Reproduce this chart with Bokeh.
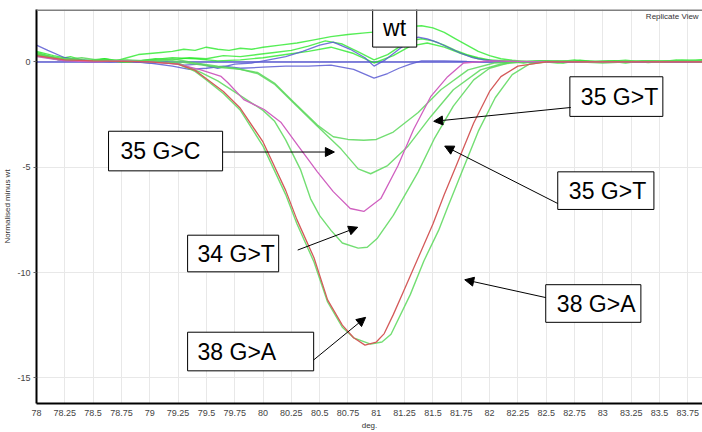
from bokeh.plotting import figure
from bokeh.models import Range1d, FixedTicker, Arrow, NormalHead, Label, Span
from bokeh.core.properties import value
from bokeh.embed import file_html
from bokeh.resources import INLINE

# ---------------- data ----------------
x_ticks = [78, 78.25, 78.5, 78.75, 79, 79.25, 79.5, 79.75, 80, 80.25, 80.5, 80.75,
           81, 81.25, 81.5, 81.75, 82, 82.25, 82.5, 82.75, 83, 83.25, 83.5, 83.75]
x_tick_labels = ["78", "78.25", "78.5", "78.75", "79", "79.25", "79.5", "79.75", "80", "80.25",
                 "80.5", "80.75", "81", "81.25", "81.5", "81.75", "82", "82.25", "82.5", "82.75",
                 "83", "83.25", "83.5", "83.75"]
y_ticks = [0, -5, -10, -15]
y_tick_labels = ["0", "-5", "-10", "-15"]

blue_zero_x = [78.0, 83.88]
blue_zero_y = [0.0, 0.0]

blue_a_x = [78.0, 78.1, 78.25, 78.4, 78.5, 78.65, 78.8, 79.0, 79.15, 79.3, 79.45, 79.6, 79.75, 79.9,
            80.05, 80.2, 80.35, 80.5, 80.62, 80.77, 80.9, 80.98, 81.08, 81.2, 81.3, 81.37, 81.45,
            81.55, 81.65, 81.75, 81.85, 81.95, 82.1, 82.3, 82.5, 82.75, 83.0, 83.25, 83.5, 83.75, 83.88]
blue_a_y = [0.8, 0.55, 0.2, 0.1, 0.05, 0.0, 0.05, -0.05, 0.0, -0.15, -0.1, -0.3, -0.1, -0.05,
            0.1, 0.25, 0.5, 0.8, 0.94, 0.6, 0.2, -0.2, 0.1, 0.6, 1.0, 1.18, 1.1, 0.9, 0.65, 0.4,
            0.2, 0.1, 0.03, 0.0, 0.02, 0.0, 0.0, 0.0, 0.0, 0.0, 0.0]

blue_b_x = [78.0, 78.25, 78.5, 78.75, 79.0, 79.2, 79.35, 79.5, 79.65, 79.8, 80.0, 80.2, 80.4, 80.6,
            80.8, 80.98, 81.1, 81.2, 81.3, 81.4, 81.6, 81.8, 82.0, 82.5, 83.0, 83.5, 83.88]
blue_b_y = [0.3, 0.05, 0.0, 0.05, -0.05, -0.2, -0.35, -0.3, -0.2, -0.3, -0.25, -0.2, -0.2, -0.15,
            -0.35, -0.77, -0.55, -0.3, -0.1, 0.05, 0.05, 0.02, 0.0, 0.0, 0.0, 0.0, 0.0]

wt1_x = [78.0, 78.1, 78.2, 78.3, 78.4, 78.5, 78.6, 78.7, 78.8, 78.9, 79.0, 79.1, 79.2, 79.3, 79.4,
         79.5, 79.6, 79.7, 79.8, 79.9, 80.0, 80.15, 80.3, 80.45, 80.6, 80.75, 80.9, 81.05, 81.2,
         81.3, 81.4, 81.5, 81.6, 81.7, 81.8, 81.9, 82.0, 82.1, 82.2, 82.35, 82.5, 82.65, 82.8,
         82.95, 83.1, 83.25, 83.4, 83.55, 83.7, 83.88]
wt1_y = [0.45, 0.3, 0.15, 0.25, 0.1, 0.05, 0.15, 0.05, 0.2, 0.35, 0.4, 0.45, 0.5, 0.6, 0.55,
         0.7, 0.6, 0.55, 0.65, 0.6, 0.7, 0.8, 0.9, 1.05, 1.2, 1.3, 1.38, 1.45, 1.6,
         1.68, 1.72, 1.62, 1.4, 1.1, 0.8, 0.5, 0.3, 0.15, 0.08, 0.0, 0.05, -0.05, 0.08,
         0.0, 0.06, -0.02, 0.05, 0.0, 0.08, 0.1]

wt2_x = [78.0, 78.15, 78.3, 78.45, 78.6, 78.75, 78.9, 79.05, 79.2, 79.35, 79.5, 79.65, 79.8, 79.95,
         80.1, 80.25, 80.4, 80.55, 80.7, 80.85, 80.98, 81.1, 81.2, 81.3, 81.4, 81.5, 81.6, 81.7,
         81.8, 81.9, 82.0, 82.15, 82.3, 82.45, 82.6, 82.75, 82.9, 83.05, 83.2, 83.35, 83.5, 83.65,
         83.8, 83.88]
wt2_y = [0.5, 0.3, 0.15, 0.05, 0.1, 0.0, 0.05, 0.15, 0.1, 0.2, 0.15, 0.3, 0.25, 0.35,
         0.45, 0.55, 0.75, 1.0, 0.85, 0.45, 0.1, 0.35, 0.7, 1.0, 1.1, 1.0, 0.8, 0.55,
         0.35, 0.2, 0.1, 0.05, -0.05, 0.05, 0.0, 0.1, 0.0, 0.05, -0.05, 0.05, 0.0, 0.1,
         0.05, 0.1]

wt3_x = [78.0, 78.2, 78.4, 78.6, 78.8, 79.0, 79.2, 79.4, 79.6, 79.8, 80.0, 80.2, 80.4, 80.6, 80.8,
         80.98, 81.15, 81.3, 81.45, 81.6, 81.75, 81.9, 82.05, 82.2, 82.4, 82.6, 82.8, 83.0, 83.2,
         83.4, 83.6, 83.88]
wt3_y = [0.35, 0.1, 0.05, 0.15, 0.0, 0.1, 0.2, 0.15, 0.05, 0.1, 0.2, 0.35, 0.5, 0.7, 0.4,
         -0.05, 0.3, 0.75, 0.9, 0.7, 0.4, 0.15, 0.05, 0.0, 0.05, -0.05, 0.05, 0.0, 0.08,
         -0.03, 0.05, 0.0]

g35c_x = [78.0, 78.2, 78.4, 78.6, 78.8, 79.0, 79.2, 79.4, 79.6, 79.75, 79.95, 80.1, 80.27, 80.48,
          80.62, 80.75, 80.89, 81.0, 81.15, 81.37, 81.57, 81.81, 82.04, 82.3, 82.6, 83.0, 83.4,
          83.88]
g35c_y = [0.35, 0.1, 0.2, 0.05, 0.1, 0.05, 0.15, -0.05, -0.2, -0.3, -0.5, -1.0, -1.9, -3.0,
          -3.55, -3.68, -3.72, -3.68, -3.33, -2.4, -1.32, -0.38, -0.05, 0.0, 0.05, 0.0, 0.05,
          0.0]

g35t_x = [78.0, 78.2, 78.4, 78.6, 78.8, 79.0, 79.2, 79.4, 79.6, 79.8, 79.95, 80.1, 80.27, 80.48,
          80.69, 80.84, 80.95, 81.1, 81.28, 81.48, 81.68, 81.92, 82.1, 82.3, 82.6, 83.0, 83.4,
          83.88]
g35t_y = [0.3, 0.15, 0.05, 0.1, 0.0, 0.1, 0.05, -0.1, -0.25, -0.35, -0.55, -1.05, -1.95, -3.05,
          -4.14, -5.08, -5.31, -4.92, -4.0, -2.6, -1.32, -0.38, -0.1, 0.0, 0.05, -0.05, 0.05,
          0.05]

mag_x = [78.0, 78.25, 78.5, 78.75, 79.0, 79.25, 79.45, 79.63, 79.69, 79.83, 80.01, 80.16, 80.31,
         80.48, 80.62, 80.77, 80.89, 81.04, 81.19, 81.33, 81.48, 81.63, 81.77, 82.0, 82.5, 83.0,
         83.5, 83.88]
mag_y = [0.25, 0.05, 0.0, 0.05, 0.0, -0.1, -0.38, -0.69, -0.99, -1.79, -2.26, -2.88, -3.99,
         -5.22, -6.16, -6.96, -7.1, -6.49, -4.94, -3.2, -1.65, -0.7, -0.05, 0.05, 0.0, 0.0,
         0.0, 0.0]

g34t_x = [78.0, 78.25, 78.5, 78.75, 79.0, 79.25, 79.45, 79.6, 79.8, 80.0, 80.1, 80.2, 80.33,
          80.42, 80.5, 80.6, 80.7, 80.84, 80.92, 81.01, 81.15, 81.37, 81.51, 81.68, 81.86, 82.0,
          82.2, 82.5, 83.0, 83.5, 83.88]
g34t_y = [0.4, 0.1, 0.05, 0.1, 0.0, -0.05, -0.5, -0.9, -1.6, -2.3, -2.8, -3.7, -5.1,
          -6.5, -7.3, -8.0, -8.6, -8.84, -8.8, -8.37, -7.29, -5.22, -3.67, -2.1, -0.85, -0.3,
          0.0, 0.05, 0.0, 0.05, 0.05]

red_x = [78.0, 78.25, 78.5, 79.0, 79.25, 79.4, 79.5, 79.65, 79.8, 80.0, 80.2, 80.3, 80.45,
         80.57, 80.7, 80.8, 80.9, 81.0, 81.07, 81.15, 81.24, 81.37, 81.5, 81.6, 81.7, 81.86,
         82.0, 82.1, 82.25, 82.5, 83.0, 83.5, 83.88]
red_y = [0.3, 0.1, 0.05, 0.0, -0.1, -0.4, -0.8, -1.4, -2.2, -3.8, -6.1, -7.5, -9.3,
         -11.3, -12.5, -13.1, -13.45, -13.3, -12.9, -12.0, -10.9, -9.3, -7.7, -6.3, -5.0, -2.9,
         -1.4, -0.7, -0.2, 0.0, 0.0, 0.0, 0.0]

g38a_x = [78.0, 78.25, 78.5, 79.0, 79.25, 79.4, 79.5, 79.65, 79.8, 80.0, 80.2, 80.3, 80.45,
          80.57, 80.7, 80.8, 80.95, 81.05, 81.13, 81.3, 81.42, 81.55, 81.63, 81.75, 81.9, 82.05,
          82.2, 82.35, 82.5, 83.0, 83.5, 83.88]
g38a_y = [0.35, 0.15, 0.05, 0.05, -0.1, -0.45, -0.85, -1.5, -2.3, -4.0, -6.3, -7.7, -9.5,
          -11.4, -12.6, -13.1, -13.4, -13.3, -12.93, -11.05, -9.45, -8.0, -6.9, -5.3, -3.3, -1.7,
          -0.6, -0.1, 0.0, 0.05, 0.0, 0.05]

# annotation boxes: (label, left, right, top, bottom, text_x)
boxes = [
    ("wt", 80.968, 81.357, 2.54, 0.705, 81.06),
    ("35 G>T", 82.709, 83.530, -0.705, -2.586, 82.806),
    ("35 G>C", 78.636, 79.643, -3.291, -5.172, 78.742),
    ("34 G>T", 79.334, 80.138, -8.228, -9.967, 79.422),
    ("38 G>A", 79.334, 80.447, -12.835, -14.669, 79.422),
    ("35 G>T", 82.602, 83.451, -5.219, -7.005, 82.700),
    ("38 G>A", 82.496, 83.336, -10.578, -12.365, 82.594),
]
# arrows: (x_start, y_start, x_end, y_end)
arrows = [
    (79.643, -4.278, 80.63, -4.278),
    (82.717, -2.163, 81.507, -2.821),
    (82.602, -6.723, 81.604, -3.996),
    (80.306, -8.933, 80.836, -7.851),
    (80.447, -14.151, 80.906, -12.130),
    (82.496, -11.19, 81.781, -10.343),
]

# ---------------- figure ----------------
p = figure(width=702, height=432, x_range=Range1d(78, 83.88), y_range=Range1d(-16.22, 2.49),
           output_backend="svg", toolbar_location=None,
           min_border_left=36, min_border_right=0, min_border_top=9, min_border_bottom=25)
p.background_fill_color = "white"
p.border_fill_color = "white"
p.outline_line_color = None

p.xaxis.ticker = FixedTicker(ticks=x_ticks)
p.xaxis.major_label_overrides = {t: l for t, l in zip(x_ticks, x_tick_labels)}
p.yaxis.ticker = FixedTicker(ticks=y_ticks)
p.yaxis.major_label_overrides = {t: l for t, l in zip(y_ticks, y_tick_labels)}
p.xaxis.axis_label = "deg."
p.yaxis.axis_label = "Normalised minus wt"
for ax in (p.xaxis[0], p.yaxis[0]):
    ax.axis_line_color = "black"
    ax.axis_line_width = 2
    ax.major_tick_line_color = "#666666"
    ax.major_tick_out = 3
    ax.major_tick_in = 0
    ax.minor_tick_line_color = None
    ax.major_label_text_font = "Liberation Sans"
    ax.major_label_text_font_size = "9px"
    ax.major_label_text_color = "#444444"
    ax.major_label_standoff = 3
    ax.axis_label_text_font = "Liberation Sans"
    ax.axis_label_text_font_size = "8px"
    ax.axis_label_text_font_style = "normal"
    ax.axis_label_text_color = "#333333"
    ax.axis_label_standoff = 2
p.xaxis.major_tick_line_color = None

p.xgrid.ticker = FixedTicker(ticks=x_ticks)
p.ygrid.ticker = FixedTicker(ticks=y_ticks)
p.xgrid.grid_line_color = "#e8e8e8"
p.ygrid.grid_line_color = "#e8e8e8"

p.add_layout(Span(location=2.49, dimension="width", line_color="#808080", line_width=3))

green_trough = "#5ad85a"
green_wt = "#1ee81e"
blue = "#5a5ad2"

p.line(blue_zero_x, blue_zero_y, line_color=blue, line_width=1.5)
for xs, ys in [(wt1_x, wt1_y), (wt2_x, wt2_y), (wt3_x, wt3_y)]:
    p.line(xs, ys, line_color=green_wt, line_width=1.4, line_alpha=0.75)
p.line(blue_a_x, blue_a_y, line_color=blue, line_width=1.3, line_alpha=0.85)
p.line(blue_b_x, blue_b_y, line_color=blue, line_width=1.3, line_alpha=0.85)
for xs, ys in [(g35c_x, g35c_y), (g35t_x, g35t_y), (g34t_x, g34t_y), (g38a_x, g38a_y)]:
    p.line(xs, ys, line_color=green_trough, line_width=1.4, line_alpha=0.85)
p.line(mag_x, mag_y, line_color="#d060c0", line_width=1.3)
p.line(red_x, red_y, line_color="#d45a5a", line_width=1.3)

for lab, l, r, t, b, tx in boxes:
    p.quad(left=[l], right=[r], top=[t], bottom=[b], fill_color="white",
           line_color="black", line_width=1)
    p.text(x=[tx], y=[(t + b) / 2], text=[lab], text_font=value("Liberation Sans"),
           text_font_size="23px", text_color="black", text_baseline="middle",
           text_align="left")

for xs, ys, xe, ye in arrows:
    p.add_layout(Arrow(end=NormalHead(size=9, fill_color="black", line_color="black"),
                       x_start=xs, y_start=ys, x_end=xe, y_end=ye,
                       line_color="black", line_width=1))

p.add_layout(Label(x=83.38, y=2.16, text="Replicate View", text_font="Liberation Sans",
                   text_font_size="8px", text_color="#333333", text_baseline="middle"))

open("out.html", "w").write(file_html(p, INLINE))
